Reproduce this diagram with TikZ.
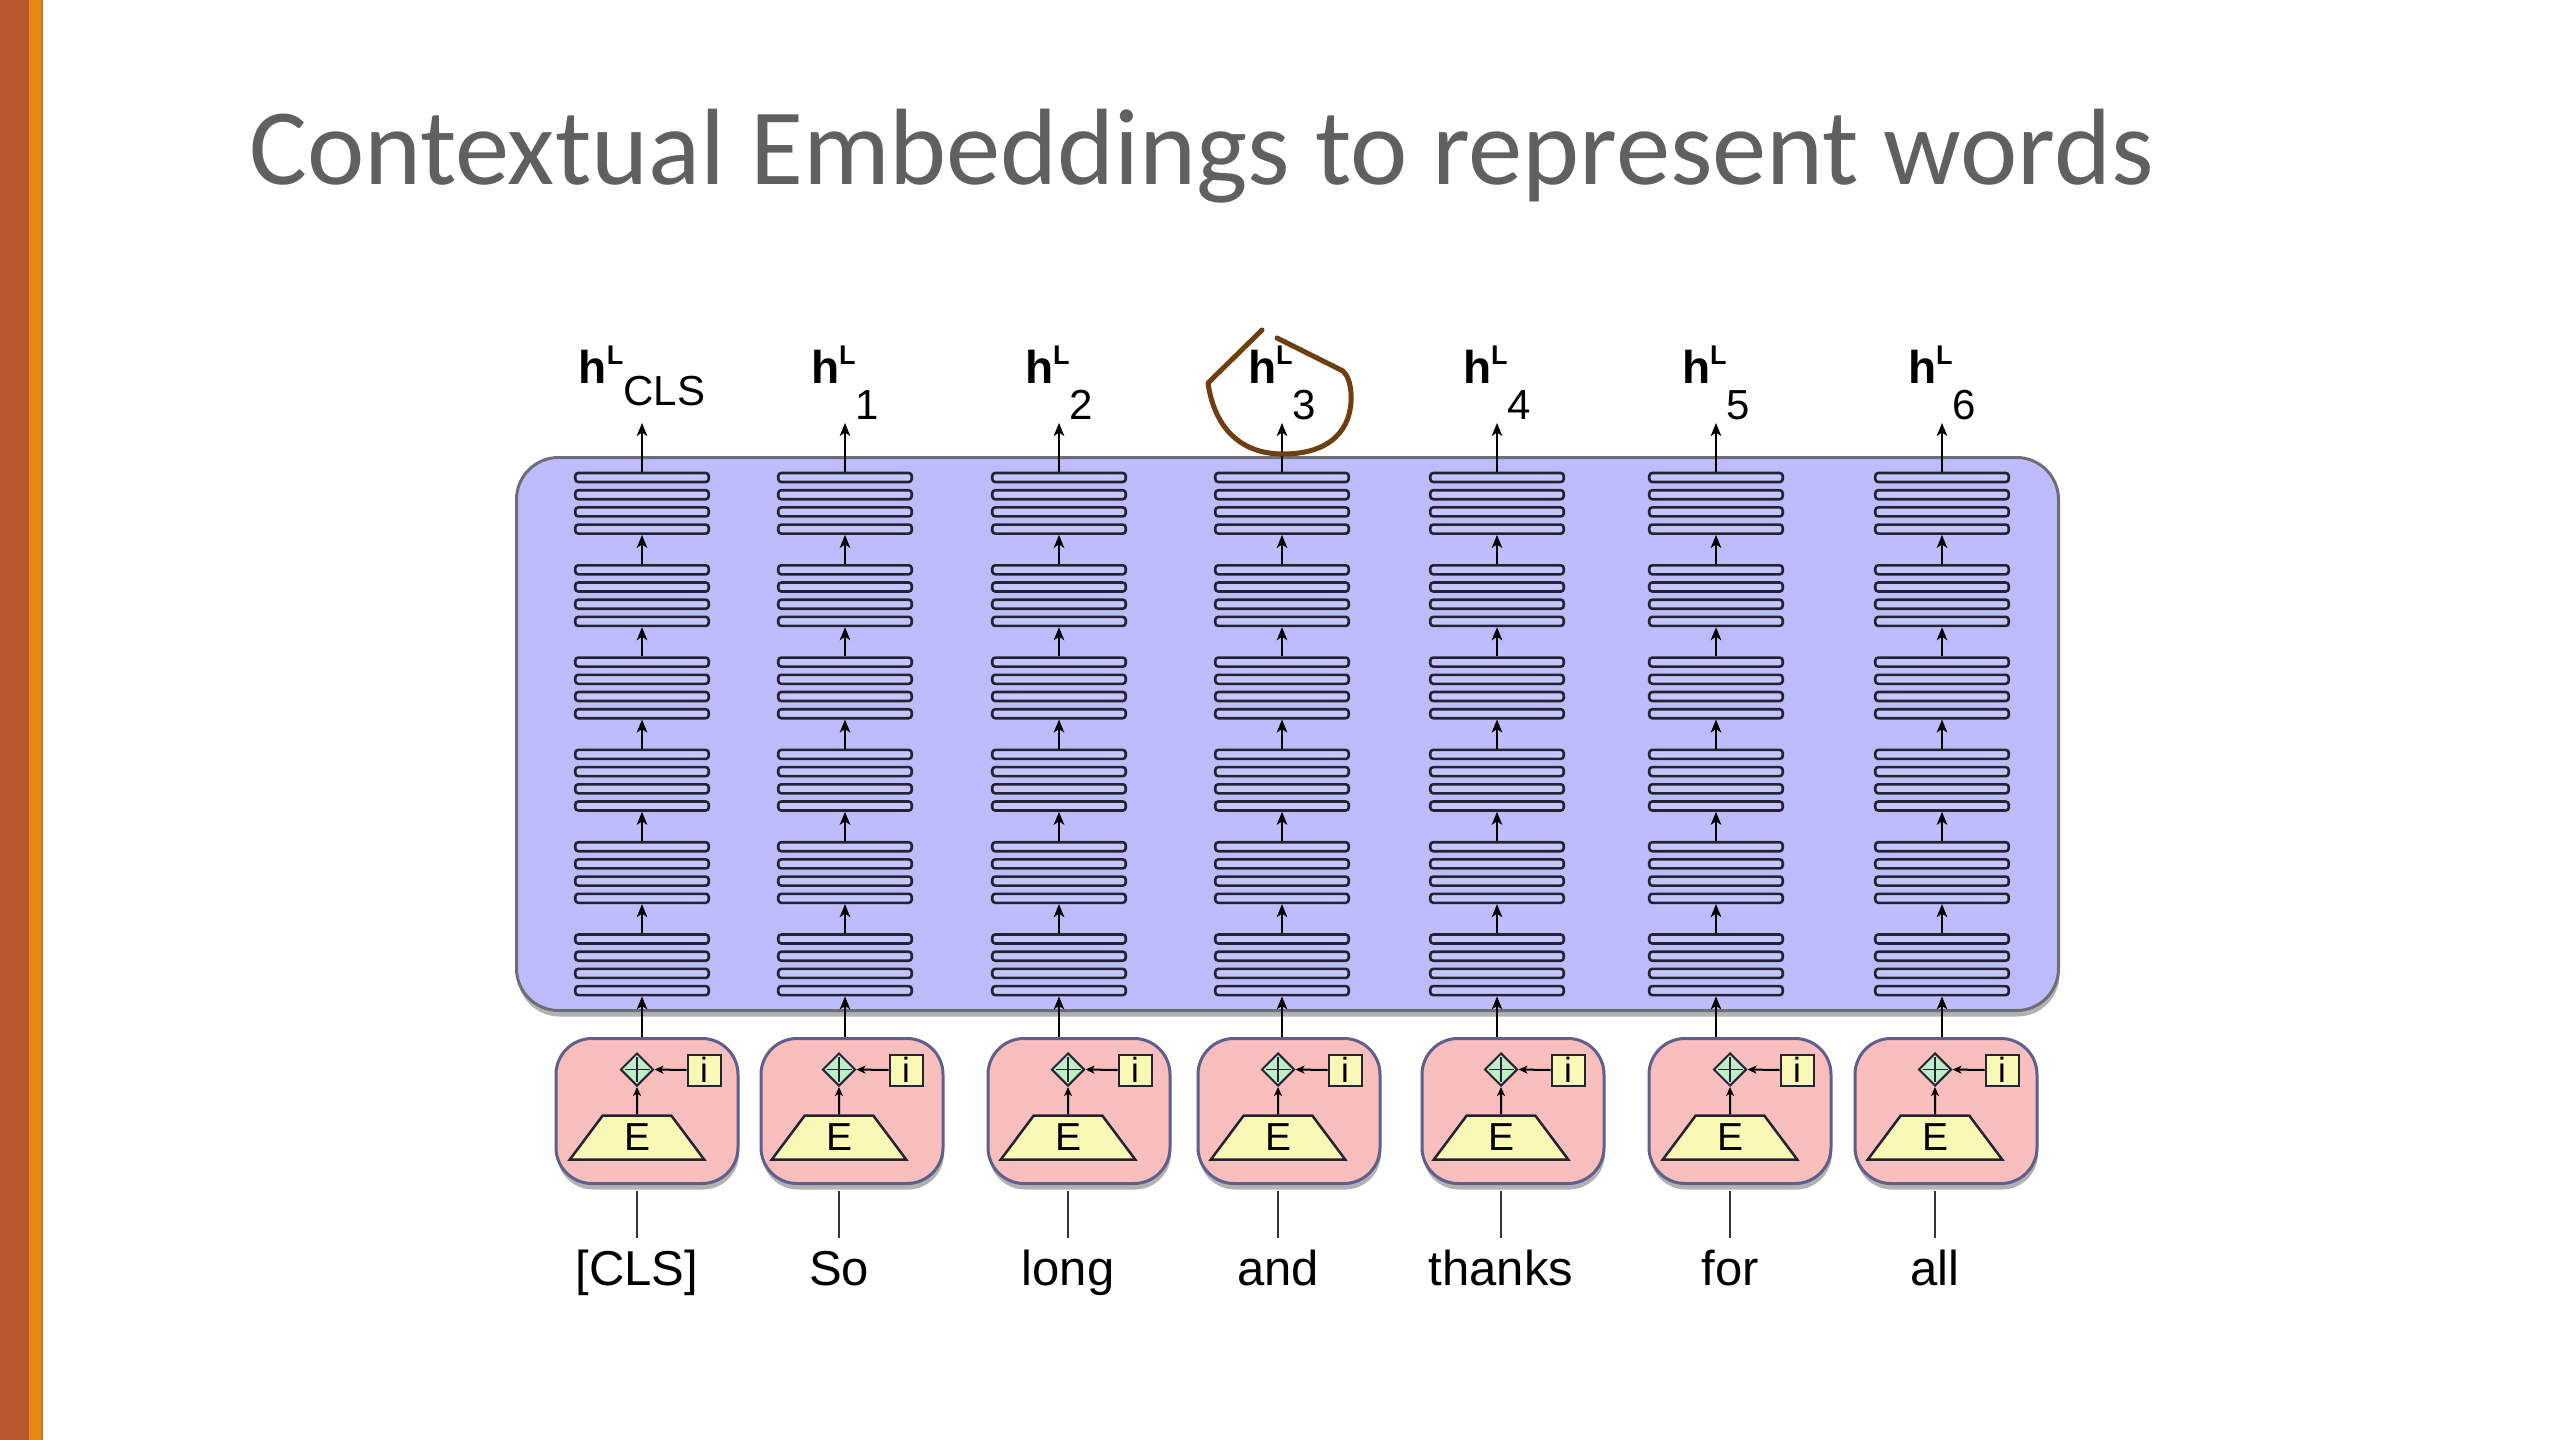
\documentclass[tikz,border=0pt]{standalone}
\usepackage{fontspec}
\setmainfont{Liberation Sans}
\newfontfamily\titlefont{Carlito}
\usetikzlibrary{shapes.geometric,arrows.meta,shadows}

\definecolor{sidebrown}{RGB}{185,86,46}
\definecolor{sideorange}{RGB}{228,138,20}
\definecolor{titlegray}{RGB}{96,96,96}
\definecolor{boxblue}{RGB}{189,189,251}
\definecolor{barblue}{RGB}{198,198,255}
\definecolor{boxedge}{RGB}{110,110,120}
\definecolor{pinkfill}{RGB}{249,190,190}
\definecolor{pinkedge}{RGB}{95,95,140}
\definecolor{yellowfill}{RGB}{250,248,182}
\definecolor{greenfill}{RGB}{190,240,200}
\definecolor{loopbrown}{RGB}{110,62,16}
\definecolor{darkline}{RGB}{35,35,50}

\newcommand{\hlabel}[2]{{\fontsize{46pt}{46pt}\selectfont\bfseries h}{\fontsize{27pt}{27pt}\selectfont\bfseries\raisebox{19pt}{L}}{\fontsize{42pt}{42pt}\selectfont\raisebox{-#2}{#1}}}

\begin{document}
\begin{tikzpicture}[x=1pt,y=-1pt,
  arr/.style={line width=2pt, draw=black, -{Stealth[length=13pt,width=10.5pt,inset=3.5pt]}},
  smallarr/.style={line width=2pt, draw=black, -{Stealth[length=9pt,width=8pt,inset=2.5pt]}},
  bigbox/.style={draw=boxedge, line width=3pt, fill=boxblue, rounded corners=42pt,
    minimum width=1542pt, minimum height=553pt, inner sep=0pt,
    drop shadow={shadow xshift=1pt, shadow yshift=-6pt, opacity=0.3, fill=black}},
  layerbar/.style={draw=darkline, line width=2.6pt, fill=barblue, rounded corners=3pt,
    minimum width=133.5pt, minimum height=9pt, inner sep=0pt},
  embbox/.style={draw=pinkedge, line width=3pt, fill=pinkfill, rounded corners=36pt,
    minimum width=182pt, minimum height=145pt, inner sep=0pt,
    drop shadow={shadow xshift=1pt, shadow yshift=-6pt, opacity=0.3, fill=black}},
  plusnode/.style={diamond, draw=darkline, line width=2pt, fill=greenfill,
    minimum width=33pt, minimum height=33pt, inner sep=0pt},
  ibox/.style={draw=darkline, line width=2pt, fill=yellowfill, minimum width=33pt,
    minimum height=31pt, inner sep=0pt, font=\fontsize{35pt}{35pt}\selectfont},
  etrap/.style={trapezium, trapezium stretches=true, trapezium left angle=65,
    trapezium right angle=65, draw=darkline, line width=2.5pt, fill=yellowfill,
    minimum width=135pt, minimum height=44pt, inner sep=0pt,
    font=\fontsize{39pt}{39pt}\selectfont},
  wordnode/.style={anchor=base, inner xsep=0pt, inner ysep=11pt, text height=36pt,
    text depth=10pt, font=\fontsize{49pt}{49pt}\selectfont},
  wordline/.style={line width=1.8pt, draw=black!80},
  hnode/.style={anchor=base, inner sep=0pt},
  loopline/.style={draw=loopbrown, line width=5pt, line cap=round, line join=round}
]
\useasboundingbox (0,0) rectangle (2560,1440);
\fill[white] (0,0) rectangle (2560,1440);
% side bars
\fill[sidebrown] (0,0) rectangle (29,1440);
\fill[sideorange] (29,0) rectangle (42,1440);
\fill[sideorange!85!black] (41,0) rectangle (42.5,1440);

% title
\node[anchor=base west, inner sep=0pt, text=titlegray,
  font=\titlefont\fontsize{108.6pt}{108.6pt}\selectfont] (title) at (249,184)
  {Contextual Embeddings to represent words};

% encoder box
\node[bigbox] (enc) at (1287.5,734) {};

\foreach \sx/\bx/\cx/\word/\sub/\low [count=\c] in
  {642/647/637/{[CLS]}/CLS/22pt,
   845/852/839/So/1/36pt,
   1059/1079/1068/long/2/36pt,
   1282/1289/1278/and/3/36pt,
   1497/1513/1501/thanks/4/36pt,
   1716/1740/1730/for/5/36pt,
   1942/1946/1935/all/6/36pt}{
  % layer bars
  \foreach \g in {0,...,5}{
    \foreach \j in {0,...,3}{
      \node[layerbar] (b-\c-\g-\j) at (\sx,{477.5+92.3*\g+17.2*\j}) {};
    }
  }
  \foreach \g in {1,...,5}{
    \pgfmathtruncatemacro{\gp}{\g-1}
    \draw[arr] (b-\c-\g-0.north) -- (b-\c-\gp-3.south);
  }
  % output label
  \coordinate (t-\c) at (\sx,423);
  \draw[arr] (b-\c-0-0.north) -- (t-\c);
  \node[hnode] (h-\c) at (\sx,383) {\hlabel{\sub}{\low}};
  % embedding box
  \node[embbox] (emb-\c) at (\bx,1111) {};
  \node[plusnode] (d-\c) at (\cx,1069.5) {};
  \draw[line width=1.6pt, draw=darkline, shorten >=5pt, shorten <=5pt] (d-\c.north) -- (d-\c.south);
  \draw[line width=1.6pt, draw=darkline, shorten >=5pt, shorten <=5pt] (d-\c.west) -- (d-\c.east);
  \node[ibox] (i-\c) at ({\cx+67},1070) {i};
  \draw[smallarr] (i-\c.west) -- (d-\c.east);
  \node[etrap] (e-\c) at (\cx,1137.5) {E};
  \draw[smallarr] (e-\c.north) -- (d-\c.south);
  \draw[arr] (emb-\c.north -| b-\c-5-3.south) -- (b-\c-5-3.south);
  % word
  \node[wordnode] (w-\c) at (\cx,1285) {\word};
  \draw[wordline, shorten <=6pt] (emb-\c.south -| w-\c.north) -- (w-\c.north);
}

% hand-drawn loop around h^L_3
\draw[loopline] (1262,330) -- (1208,383)
  .. controls (1214,425) and (1238,454) .. (1283,454)
  .. controls (1330,454) and (1353,430) .. (1351,393)
  .. controls (1350,381) and (1347,375) .. (1343,371)
  -- (1277,338);
\end{tikzpicture}
\end{document}
